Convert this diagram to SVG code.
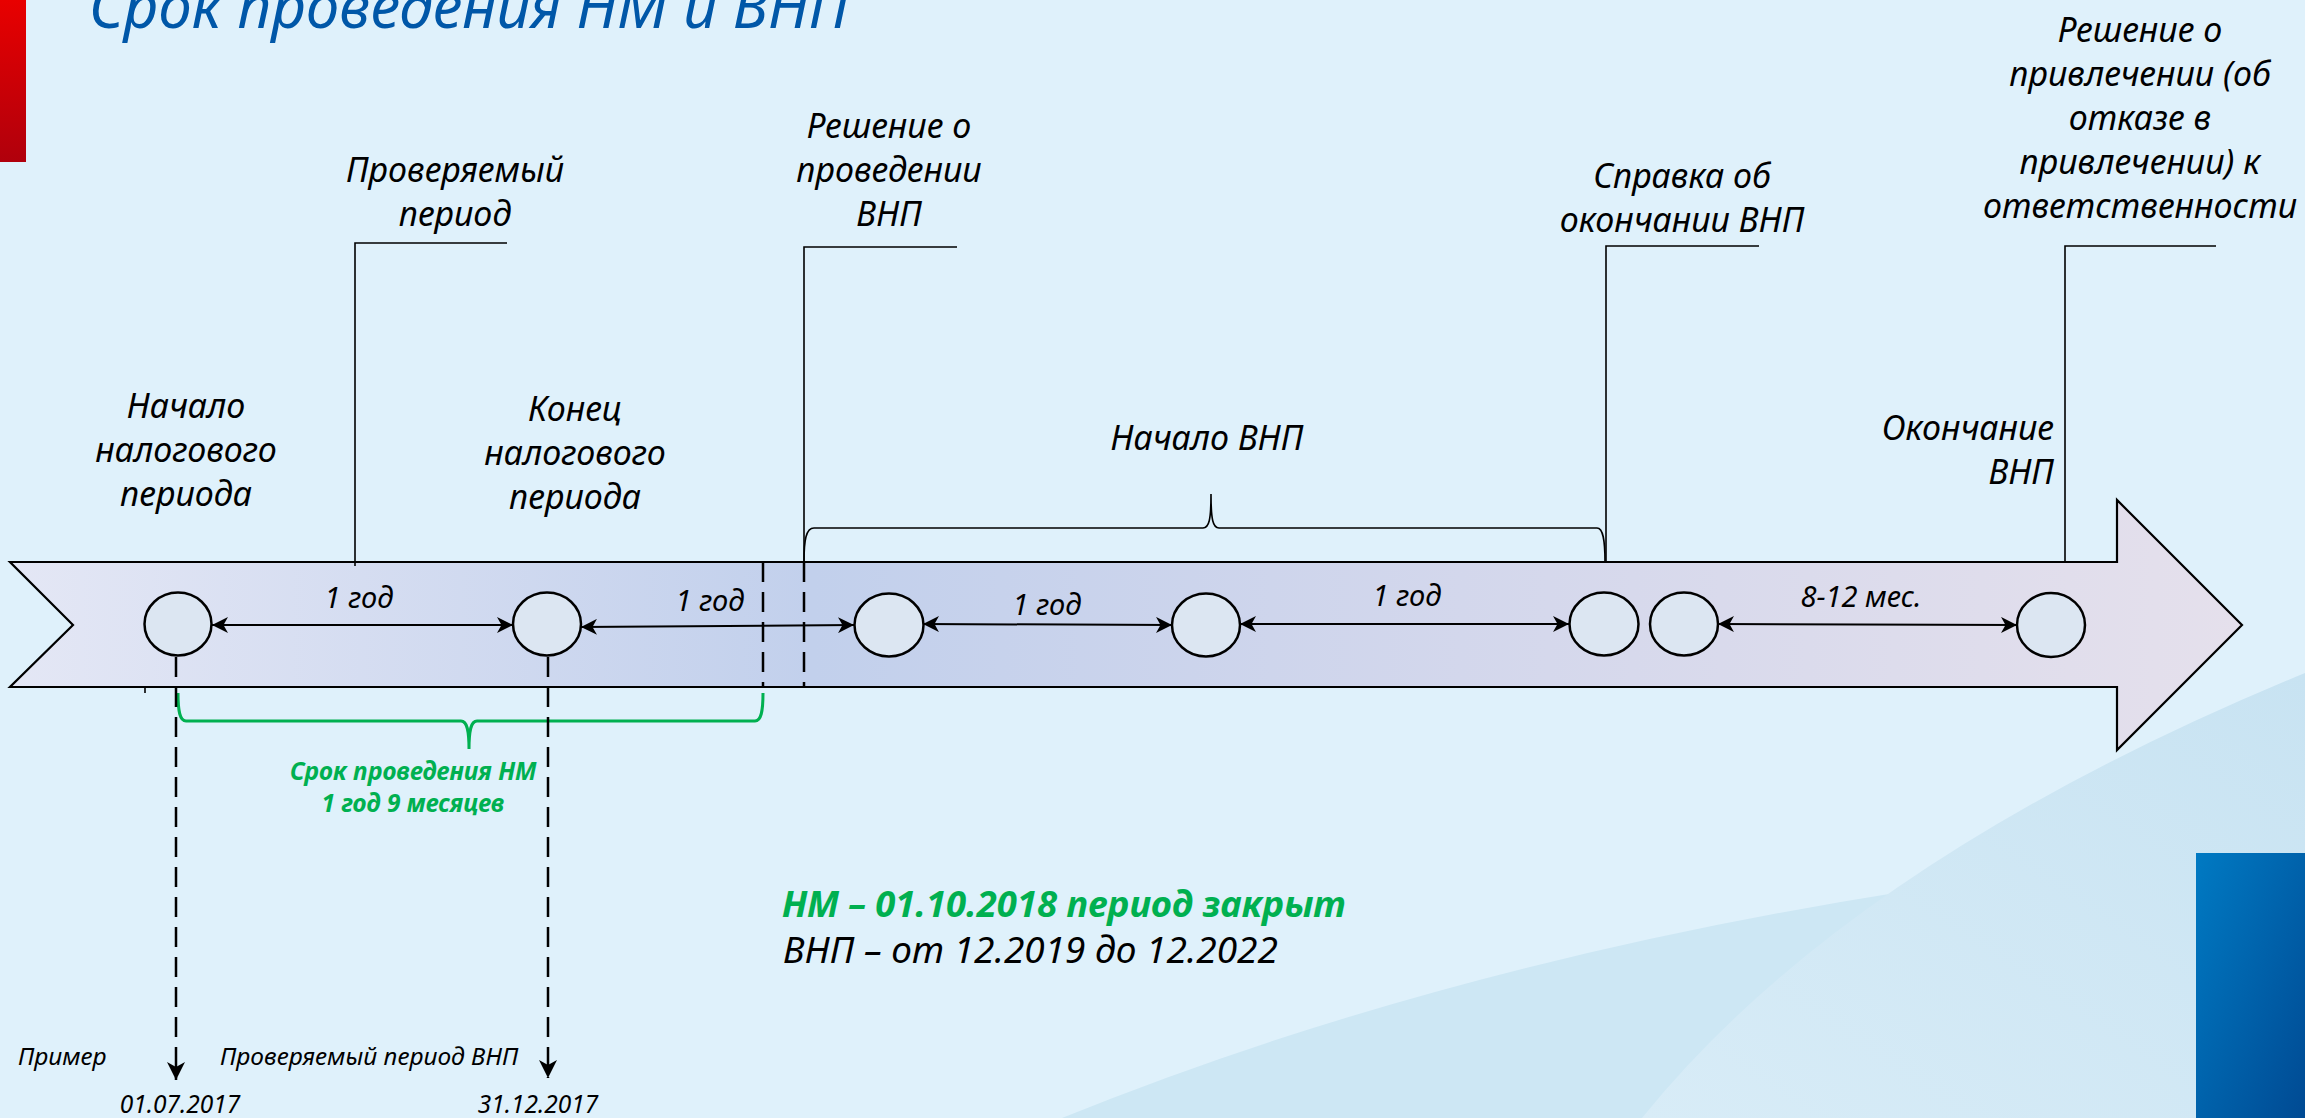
<svg xmlns="http://www.w3.org/2000/svg" width="2305" height="1118" viewBox="0 0 2305 1118">
<defs>
<style>
text{font-family:"Noto Sans","Open Sans",sans-serif;font-style:italic;fill:#000}
.lbl{font-size:34px;text-anchor:middle}
.yr{font-size:29px;text-anchor:middle}
.sm{font-size:24.5px}
.gr{fill:#00B050;font-weight:bold}
.ln{stroke:#000;stroke-width:2;fill:none}
.thin{stroke:#000;stroke-width:1.6;fill:none}
.dash{stroke:#000;stroke-width:2.5;fill:none;stroke-dasharray:20 10}
.node{fill:#DCE6F2;stroke:#000;stroke-width:2.5}
</style>
<linearGradient id="arrowFill" x1="0" y1="0" x2="1" y2="0">
<stop offset="0" stop-color="#E4E7F5"/>
<stop offset="0.36" stop-color="#C2D0EC"/>
<stop offset="0.65" stop-color="#D3D7EC"/>
<stop offset="1" stop-color="#E5E0EC"/>
</linearGradient>
<linearGradient id="red" x1="0" y1="0" x2="0" y2="1">
<stop offset="0" stop-color="#E80000"/>
<stop offset="1" stop-color="#B0000C"/>
</linearGradient>
<linearGradient id="blue" x1="0" y1="0" x2="1" y2="1">
<stop offset="0" stop-color="#007AC3"/>
<stop offset="1" stop-color="#004A93"/>
</linearGradient>
<linearGradient id="swB" x1="0" y1="1" x2="1" y2="0">
<stop offset="0" stop-color="#D8ECF7"/>
<stop offset="1" stop-color="#C8E3F2"/>
</linearGradient>
<marker id="ah" viewBox="0 0 16 16" refX="16" refY="8" markerWidth="16" markerHeight="16" orient="auto-start-reverse" markerUnits="userSpaceOnUse">
<path d="M0,0 L16,8 L0,16 L4.5,8 Z" fill="#000"/>
</marker>
<marker id="down" viewBox="0 0 18 18" refX="18" refY="9" markerWidth="18" markerHeight="18" orient="auto" markerUnits="userSpaceOnUse">
<path d="M0,0 L18,9 L0,18 L5,9 Z" fill="#000"/>
</marker>
</defs>

<g id="background">
<rect x="0" y="0" width="2305" height="1118" fill="#DFF1FB"/>
<path d="M1062,1118 Q1600,900 2305,845 L2305,1118 Z" fill="#CDE7F4"/>
<path d="M1642,1118 Q1850,860 2305,673 L2305,1118 Z" fill="url(#swB)"/>
<rect x="2196" y="853" width="109" height="265" fill="url(#blue)"/>
<rect x="0" y="0" width="26" height="162" fill="url(#red)"/>
</g>

<g id="title">
<text x="89" y="28" style="font-size:60px;fill:#0057A8">Срок проведения НМ и ВНП</text>
</g>

<g id="timeline-arrow">
<path d="M10,562 L2117,562 L2117,500 L2242,625 L2117,750 L2117,687 L10,687 L73,625 Z" fill="url(#arrowFill)" stroke="#000" stroke-width="2.2" stroke-linejoin="miter"/>
</g>

<g id="connectors">
<path class="thin" d="M507,243 L355,243 L355,566"/>
<path class="thin" d="M957,247 L804,247 L804,562"/>
<path class="thin" d="M1759,246 L1606,246 L1606,562"/>
<path class="thin" d="M2216,246 L2065,246 L2065,562"/>
<path class="dash" d="M763,562 L763,687"/>
<path class="dash" d="M804,562 L804,687"/>
<path class="thin" d="M145,687 L145,693"/>
<path class="thin" d="M804,562 C804,540 806,528 814,528 L1203,528 C1209,528 1211,520 1211,494 C1211,520 1213,528 1219,528 L1597,528 C1603,528 1605,540 1605,562"/>
<path d="M178,693 C178,712 180,721 186,721 L461,721 C467,721 469,730 469,749 C469,730 471,721 477,721 L755,721 C761,721 763,712 763,693" fill="none" stroke="#00B050" stroke-width="3"/>
<line class="ln" x1="212" y1="625" x2="513" y2="625" marker-start="url(#ah)" marker-end="url(#ah)"/>
<line class="ln" x1="581" y1="627" x2="854" y2="625" marker-start="url(#ah)" marker-end="url(#ah)"/>
<line class="ln" x1="923" y1="624" x2="1172" y2="625" marker-start="url(#ah)" marker-end="url(#ah)"/>
<line class="ln" x1="1240" y1="624" x2="1569" y2="624" marker-start="url(#ah)" marker-end="url(#ah)"/>
<line class="ln" x1="1718" y1="624" x2="2017" y2="625" marker-start="url(#ah)" marker-end="url(#ah)"/>
<line class="dash" x1="176" y1="657" x2="176" y2="1080" marker-end="url(#down)"/>
<line class="dash" x1="548" y1="657" x2="548" y2="1078" marker-end="url(#down)"/>
</g>

<g id="node-c1"><ellipse class="node" cx="178" cy="624" rx="33.5" ry="31.5"/></g>
<g id="node-c2"><ellipse class="node" cx="547" cy="624" rx="34" ry="31.5"/></g>
<g id="node-c3"><ellipse class="node" cx="889" cy="625" rx="34.5" ry="31.5"/></g>
<g id="node-c4"><ellipse class="node" cx="1206" cy="625" rx="34" ry="31.5"/></g>
<g id="node-c5"><ellipse class="node" cx="1604" cy="624" rx="34.5" ry="31.5"/></g>
<g id="node-c6"><ellipse class="node" cx="1684" cy="624" rx="34" ry="31.5"/></g>
<g id="node-c7"><ellipse class="node" cx="2051" cy="625" rx="34" ry="32"/></g>

<g id="label-checked-period">
<text class="lbl" x="455" y="182">Проверяемый</text>
<text class="lbl" x="455" y="226">период</text>
</g>
<g id="label-decision-start">
<text class="lbl" x="889" y="138">Решение о</text>
<text class="lbl" x="889" y="182">проведении</text>
<text class="lbl" x="889" y="226">ВНП</text>
</g>
<g id="label-certificate">
<text class="lbl" x="1682" y="188">Справка об</text>
<text class="lbl" x="1682" y="232">окончании ВНП</text>
</g>
<g id="label-decision-liability">
<text class="lbl" x="2140" y="42">Решение о</text>
<text class="lbl" x="2140" y="86">привлечении (об</text>
<text class="lbl" x="2140" y="130">отказе в</text>
<text class="lbl" x="2140" y="174">привлечении) к</text>
<text class="lbl" x="2140" y="218">ответственности</text>
</g>
<g id="label-period-start">
<text class="lbl" x="186" y="418">Начало</text>
<text class="lbl" x="186" y="462">налогового</text>
<text class="lbl" x="186" y="506">периода</text>
</g>
<g id="label-period-end">
<text class="lbl" x="575" y="421">Конец</text>
<text class="lbl" x="575" y="465">налогового</text>
<text class="lbl" x="575" y="509">периода</text>
</g>
<g id="label-vnp-start">
<text class="lbl" x="1207" y="450">Начало ВНП</text>
</g>
<g id="label-vnp-end">
<text class="lbl" x="2054" y="440" style="text-anchor:end">Окончание</text>
<text class="lbl" x="2054" y="484" style="text-anchor:end">ВНП</text>
</g>

<g id="duration-labels">
<text class="yr" x="359" y="608">1 год</text>
<text class="yr" x="710" y="611">1 год</text>
<text class="yr" x="1047" y="615">1 год</text>
<text class="yr" x="1407" y="606">1 год</text>
<text class="yr" x="1861" y="607">8-12 мес.</text>
</g>

<g id="nm-term">
<text class="gr" x="413" y="780" style="font-size:24.5px;text-anchor:middle">Срок проведения НМ</text>
<text class="gr" x="413" y="812" style="font-size:24.5px;text-anchor:middle">1 год 9 месяцев</text>
</g>

<g id="summary">
<text class="gr" x="782" y="917" style="font-size:36.5px">НМ – 01.10.2018 период закрыт</text>
<text x="783" y="963" style="font-size:37px">ВНП – от 12.2019 до 12.2022</text>
</g>

<g id="example">
<text class="sm" x="18" y="1065">Пример</text>
<text class="sm" x="220" y="1065">Проверяемый период ВНП</text>
<text class="sm" x="180" y="1113" style="text-anchor:middle">01.07.2017</text>
<text class="sm" x="538" y="1113" style="text-anchor:middle">31.12.2017</text>
</g>
</svg>
